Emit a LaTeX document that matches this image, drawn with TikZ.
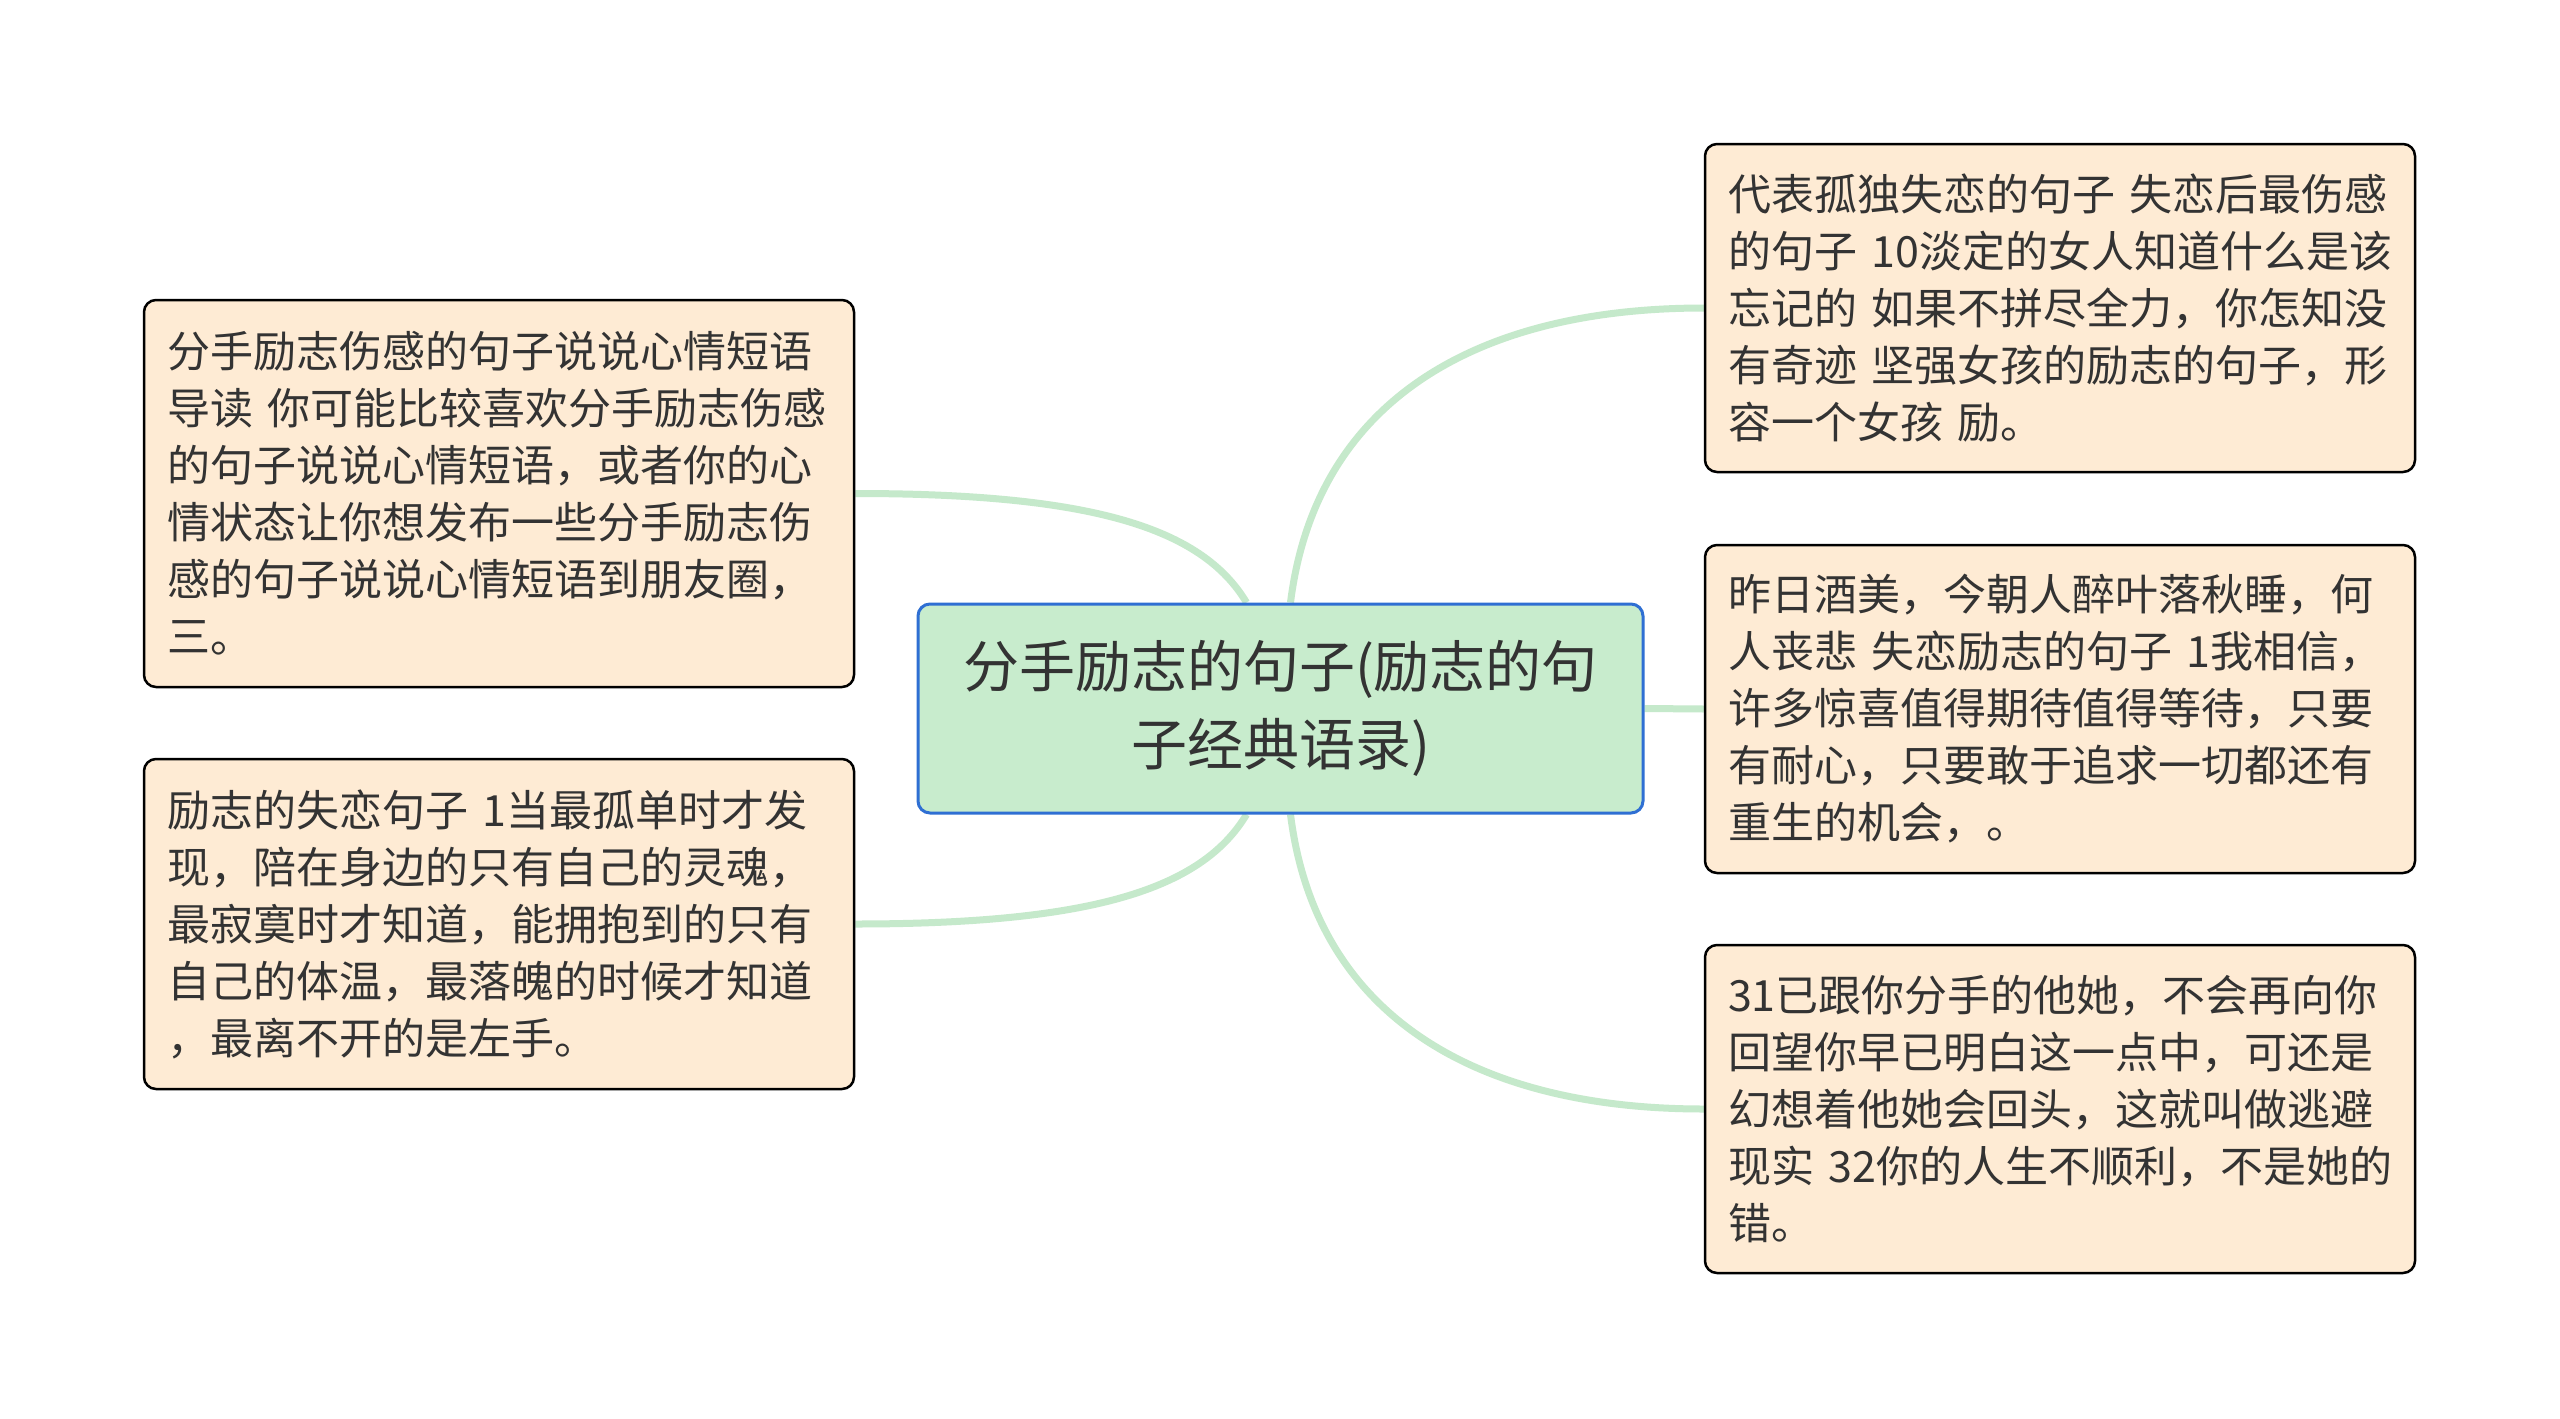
\documentclass[tikz,border=0pt]{standalone}
\usepackage{fontspec}
\setmainfont{Noto Sans CJK SC}
\usetikzlibrary{backgrounds,calc}
\setlength{\parindent}{0pt}
\definecolor{connc}{HTML}{C5E9CB}
\definecolor{cfill}{HTML}{C8ECCD}
\definecolor{cdraw}{HTML}{2F6FD3}
\definecolor{lfill}{HTML}{FEEBD4}
\definecolor{tcol}{HTML}{333333}
\begin{document}
\begin{tikzpicture}[x=1pt,y=-1pt,
  leaf/.style={draw=black, line width=2.5pt, fill=lfill, rounded corners=12pt,
    minimum width=710pt, inner xsep=23pt, inner ysep=0pt, text width=664pt,
    align=left, font=\fontsize{43}{57}\selectfont, text=tcol},
  center/.style={draw=cdraw, line width=3pt, fill=cfill, rounded corners=12pt,
    minimum width=725pt, minimum height=209pt, inner sep=0pt, text width=700pt,
    align=center, font=\fontsize{56}{78}\selectfont, text=tcol},
  conn/.style={draw=connc, line width=7pt}]
\useasboundingbox (0,0) rectangle (2560,1419);

\node[center] (c) at (1280.5,708.5) {分手励志的句子(励志的句\\子经典语录)};

\node[leaf, minimum height=387pt] (l1) at (499,493.5) {分手励志伤感的句子说说心情短语\\导读 你可能比较喜欢分手励志伤感\\的句子说说心情短语，或者你的心\\情状态让你想发布一些分手励志伤\\感的句子说说心情短语到朋友圈，\\三。};

\node[leaf, minimum height=330pt] (l2) at (499,924) {励志的失恋句子 1当最孤单时才发\\现，陪在身边的只有自己的灵魂，\\最寂寞时才知道，能拥抱到的只有\\自己的体温，最落魄的时候才知道\\，最离不开的是左手。};

\node[leaf, minimum height=328pt] (r1) at (2060,308) {代表孤独失恋的句子 失恋后最伤感\\的句子 10淡定的女人知道什么是该\\忘记的 如果不拼尽全力，你怎知没\\有奇迹 坚强女孩的励志的句子，形\\容一个女孩 励。};

\node[leaf, minimum height=328pt] (r2) at (2060,709) {昨日酒美，今朝人醉叶落秋睡，何\\人丧悲 失恋励志的句子 1我相信，\\许多惊喜值得期待值得等待，只要\\有耐心，只要敢于追求一切都还有\\重生的机会，。};

\node[leaf, minimum height=328pt] (r3) at (2060,1109) {31已跟你分手的他她，不会再向你\\回望你早已明白这一点中，可还是\\幻想着他她会回头，这就叫做逃避\\现实 32你的人生不顺利，不是她的\\错。};

\begin{scope}[on background layer]
\fill[white] (0,0) rectangle (2560,1419);
\draw[conn] (l1.east) .. controls +(236,0) and +(-45,-75) .. ([xshift=-34pt]c.north);
\draw[conn] ([xshift=10pt]c.north) .. controls +(25,-200) and +(-230,0) .. (r1.west);
\draw[conn] (c.east) -- (r2.west);
\draw[conn] ([xshift=10pt]c.south) .. controls +(25,200) and +(-230,0) .. (r3.west);
\draw[conn] ([xshift=-34pt]c.south) .. controls +(-45,75) and +(236,0) .. (l2.east);
\end{scope}
\end{tikzpicture}
\end{document}
